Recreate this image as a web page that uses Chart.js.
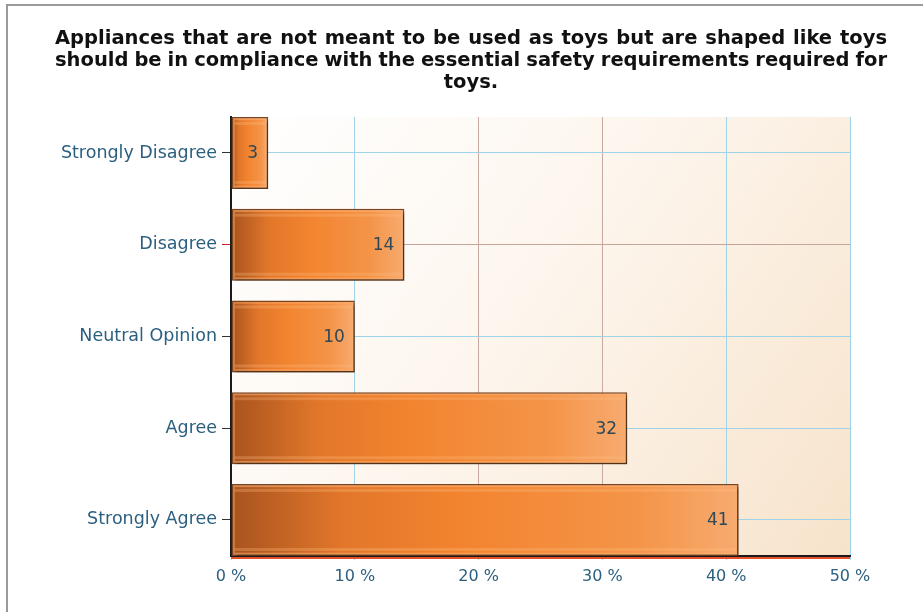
<!DOCTYPE html>
<html><head><meta charset="utf-8">
<script src="https://cdn.jsdelivr.net/npm/chart.js@4.4.0/dist/chart.umd.min.js"></script>
<style>html,body{margin:0;padding:0;background:#fff}#wrap{width:923px;height:612px}</style>
</head><body><div id="wrap"><canvas id="c" width="923" height="612"></canvas></div>
<script>
const titleLines = [
  'Appliances that are not meant to be used as toys but are shaped like toys',
  'should be in compliance with the essential safety requirements required for',
  'toys.'
];
const categories = ['Strongly Disagree', 'Disagree', 'Neutral Opinion', 'Agree', 'Strongly Agree'];
const values = [3, 14, 10, 32, 41];
const xTickSuffix = ' %';

const FONT = '"DejaVu Sans", Verdana, sans-serif';
const labelColor = '#2b5f7f';

const bgPlugin = {
  id: 'bg',
  beforeDraw(chart) {
    const ctx = chart.ctx, a = chart.chartArea;
    ctx.save();
    ctx.fillStyle = '#fff';
    ctx.fillRect(0, 0, chart.width, chart.height);
    ctx.strokeStyle = '#9a9a9a';
    ctx.lineWidth = 2;
    ctx.beginPath();
    ctx.moveTo(7, chart.height + 2); ctx.lineTo(7, 5); ctx.lineTo(chart.width + 2, 5);
    ctx.stroke();
    const g = ctx.createLinearGradient(a.left, a.top, a.right, a.bottom);
    g.addColorStop(0, '#ffffff');
    g.addColorStop(0.45, '#fdf6ee');
    g.addColorStop(1, '#f7e3cb');
    ctx.fillStyle = g;
    ctx.fillRect(a.left, a.top, a.right - a.left, a.bottom - a.top);
    ctx.restore();
  },
  beforeDatasetsDraw(chart) {
    const ctx = chart.ctx, a = chart.chartArea;
    ctx.save();
    ctx.strokeStyle = '#e8502a';
    ctx.lineWidth = 2;
    ctx.beginPath();
    ctx.moveTo(a.left, a.bottom + 2); ctx.lineTo(a.right, a.bottom + 2);
    ctx.stroke();
    ctx.restore();
  },
  beforeDatasetDraw(chart) {
    const ctx = chart.ctx;
    ctx.save();
    ctx.shadowColor = 'rgba(50,35,20,0.6)';
    ctx.shadowOffsetX = 3;
    ctx.shadowOffsetY = 3;
    ctx.shadowBlur = 3;
  },
  afterDatasetDraw(chart) {
    chart.ctx.restore();
  },
  afterDatasetsDraw(chart) {
    const ctx = chart.ctx;
    const meta = chart.getDatasetMeta(0);
    ctx.save();
    meta.data.forEach((el, i) => {
      const h = el.height, top = el.y - h / 2;
      const left = el.base, right = el.x;
      ctx.strokeStyle = 'rgba(255,175,110,0.55)';
      ctx.lineWidth = 1.5;
      ctx.strokeRect(left + 2.5, top + 2.5, right - left - 5, h - 5);
      ctx.fillStyle = 'rgba(255,190,130,0.3)';
      ctx.fillRect(left + 3, top + 5, right - left - 6, 3);
      ctx.fillRect(left + 3, top + h - 8, right - left - 6, 3);
      ctx.fillStyle = '#2f4858';
      ctx.font = '17px ' + FONT;
      ctx.textAlign = 'right';
      ctx.textBaseline = 'middle';
      ctx.fillText(String(values[i]), right - 10, el.y + 1);
    });
    ctx.restore();
  },
  afterDraw(chart) {
    const ctx = chart.ctx;
    ctx.save();
    ctx.fillStyle = '#111';
    ctx.font = 'bold 19.5px ' + FONT;
    ctx.textBaseline = 'alphabetic';
    const L = 55, R = 887, baselines = [44, 66, 88];
    titleLines.forEach((line, li) => {
      const words = line.split(' ');
      if (li < titleLines.length - 1 && words.length > 1) {
        let widths = words.map(w => ctx.measureText(w).width);
        let total = widths.reduce((s, w) => s + w, 0);
        let sx = 1;
        const minGap = 5;
        if (total + minGap * (words.length - 1) > R - L) {
          sx = (R - L - minGap * (words.length - 1)) / total;
        }
        const gap = (R - L - total * sx) / (words.length - 1);
        let x = L;
        ctx.textAlign = 'left';
        words.forEach((w, k) => {
          ctx.save();
          ctx.translate(x, baselines[li]);
          ctx.scale(sx, 1);
          ctx.fillText(w, 0, 0);
          ctx.restore();
          x += widths[k] * sx + gap;
        });
      } else {
        ctx.textAlign = 'center';
        ctx.fillText(line, 471, baselines[li]);
      }
    });
    ctx.restore();
  }
};

const vGrid = ['#1a1a1a', '#9fd3ea', '#c9aaa2', '#c9aaa2', '#9fd3ea', '#9fd3ea'];
const hGrid = ['#9fd3ea', '#c7a49a', '#9fd3ea', '#9fd3ea', '#9fd3ea'];
const hTick = ['#333', '#d22', '#333', '#333', '#333'];

new Chart(document.getElementById('c'), {
  type: 'bar',
  data: {
    labels: categories,
    datasets: [{
      data: values,
      backgroundColor(c) {
        const chart = c.chart;
        if (!chart.chartArea || !chart.scales.x) return '#f08030';
        const x0 = chart.scales.x.getPixelForValue(0);
        const x1 = chart.scales.x.getPixelForValue(c.raw);
        const g = chart.ctx.createLinearGradient(x0, 0, Math.max(x1, x0 + 1), 0);
        g.addColorStop(0, '#a8531e');
        g.addColorStop(0.22, '#e2772a');
        g.addColorStop(0.45, '#f2842f');
        g.addColorStop(0.8, '#f49448');
        g.addColorStop(1, '#f7ab70');
        return g;
      },
      borderColor: '#7a4420',
      borderWidth: 1.5,
      borderSkipped: false,
      barPercentage: 0.785,
      categoryPercentage: 1
    }]
  },
  options: {
    indexAxis: 'y',
    responsive: false,
    animation: false,
    devicePixelRatio: 1,
    layout: { padding: { top: 117, right: 73, bottom: 0, left: 0 } },
    plugins: { legend: { display: false }, title: { display: false }, tooltip: { enabled: false } },
    scales: {
      x: {
        min: 0, max: 50,
        afterFit(s) { s.height = 56; },
        border: { color: '#1a1a1a', width: 2 },
        grid: {
          color: c => vGrid[c.index] || '#9fd3ea',
          tickColor: '#9fd3ea',
          tickLength: 4,
          lineWidth: 1
        },
        ticks: {
          stepSize: 10,
          padding: 7,
          color: labelColor,
          font: { family: FONT, size: 16 },
          callback: v => v + xTickSuffix
        }
      },
      y: {
        afterFit(s) { s.width = 231; },
        afterBuildTicks(s) { s._startValue = -0.392; s._valueRange = 4.785; },
        border: { color: '#1a1a1a', width: 2 },
        grid: {
          offset: false,
          color: c => hGrid[c.index] || '#9fd3ea',
          tickColor: c => hTick[c.index] || '#333',
          tickLength: 9,
          lineWidth: 1
        },
        ticks: {
          padding: 5,
          color: labelColor,
          font: { family: FONT, size: 17.5 }
        }
      }
    }
  },
  plugins: [bgPlugin]
});
</script>
</body></html>
